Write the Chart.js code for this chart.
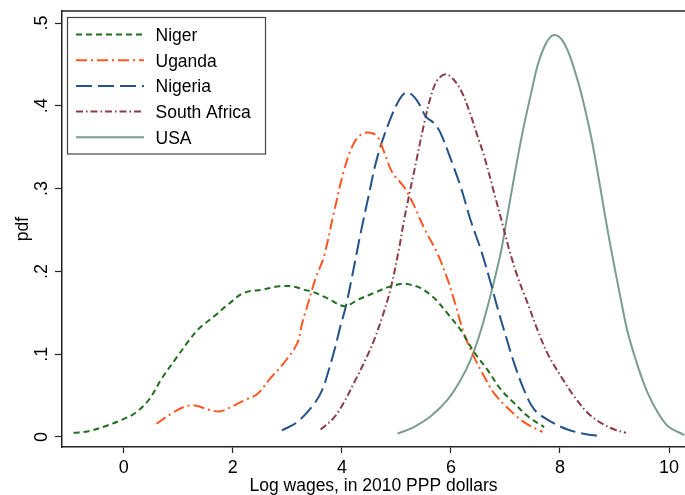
<!DOCTYPE html>
<html lang="en">
<head>
<meta charset="UTF-8">
<title>Log wage densities</title>
<style>
  html, body { margin: 0; padding: 0; background: #fff; overflow: hidden; }
  #chart { display: block; }
</style>
</head>
<body>
<canvas id="chart" width="685" height="495"></canvas>
<script src="https://cdn.jsdelivr.net/npm/chart.js"></script>
<script>
  const countries = ['Niger', 'Uganda', 'Nigeria', 'South Africa', 'USA'];

  // kernel density curves
  const nigerX = [-0.92, -0.65, -0.34, -0.03, 0.21, 0.46, 0.70, 0.98, 1.19, 1.38, 1.68, 1.93, 2.20, 2.54, 2.85, 3.09, 3.30, 3.48, 3.75, 4.05, 4.30, 4.59, 4.85, 5.10, 5.25, 5.44, 5.69, 5.94, 6.18, 6.42, 6.67, 6.92, 7.16, 7.41, 7.71];
  const nigerY = [0.005, 0.007, 0.013, 0.021, 0.029, 0.045, 0.071, 0.097, 0.116, 0.131, 0.147, 0.161, 0.174, 0.178, 0.182, 0.182, 0.178, 0.175, 0.167, 0.158, 0.166, 0.174, 0.181, 0.185, 0.184, 0.180, 0.168, 0.149, 0.129, 0.103, 0.081, 0.057, 0.041, 0.025, 0.012];

  const ugandaX = [0.60, 0.89, 1.13, 1.31, 1.56, 1.77, 1.99, 2.23, 2.45, 2.69, 2.93, 3.18, 3.27, 3.36, 3.51, 3.67, 3.85, 4.05, 4.22, 4.37, 4.52, 4.65, 4.77, 4.92, 5.14, 5.32, 5.51, 5.75, 5.94, 6.06, 6.24, 6.42, 6.61, 6.79, 7.04, 7.34, 7.68];
  const ugandaY = [0.016, 0.029, 0.037, 0.038, 0.033, 0.031, 0.037, 0.045, 0.052, 0.071, 0.089, 0.113, 0.137, 0.157, 0.190, 0.218, 0.270, 0.325, 0.355, 0.366, 0.3675, 0.363, 0.345, 0.320, 0.302, 0.280, 0.252, 0.222, 0.190, 0.165, 0.125, 0.097, 0.073, 0.053, 0.035, 0.018, 0.006];

  const nigeriaX = [2.90, 3.18, 3.48, 3.64, 3.76, 3.88, 3.97, 4.07, 4.16, 4.28, 4.34, 4.47, 4.65, 4.87, 5.05, 5.17, 5.29, 5.41, 5.54, 5.69, 5.81, 6.00, 6.18, 6.36, 6.55, 6.73, 6.85, 7.01, 7.16, 7.34, 7.53, 7.77, 8.14, 8.51, 8.69];
  const nigeriaY = [0.008, 0.018, 0.039, 0.057, 0.081, 0.109, 0.133, 0.157, 0.185, 0.225, 0.245, 0.285, 0.338, 0.381, 0.407, 0.416, 0.413, 0.403, 0.387, 0.379, 0.367, 0.335, 0.302, 0.262, 0.226, 0.186, 0.157, 0.121, 0.089, 0.057, 0.033, 0.021, 0.009, 0.003, 0.0016];

  const southAfricaX = [3.61, 3.85, 4.03, 4.25, 4.43, 4.59, 4.74, 4.89, 5.05, 5.14, 5.37, 5.51, 5.63, 5.75, 5.90, 6.03, 6.18, 6.33, 6.49, 6.61, 6.80, 6.95, 7.07, 7.22, 7.41, 7.59, 7.77, 8.02, 8.26, 8.51, 8.75, 9.00, 9.21];
  const southAfricaY = [0.009, 0.023, 0.041, 0.069, 0.093, 0.117, 0.145, 0.178, 0.228, 0.262, 0.335, 0.379, 0.411, 0.431, 0.438, 0.433, 0.419, 0.395, 0.363, 0.339, 0.293, 0.256, 0.226, 0.194, 0.161, 0.129, 0.101, 0.073, 0.049, 0.029, 0.017, 0.009, 0.005];

  const usaX = [5.02, 5.32, 5.63, 5.94, 6.18, 6.36, 6.55, 6.73, 6.85, 6.93, 7.01, 7.16, 7.31, 7.47, 7.59, 7.71, 7.82, 7.91, 8.02, 8.14, 8.23, 8.39, 8.57, 8.69, 8.83, 8.94, 9.12, 9.24, 9.43, 9.61, 9.80, 9.98, 10.28];
  const usaY = [0.004, 0.012, 0.025, 0.045, 0.069, 0.093, 0.129, 0.172, 0.204, 0.228, 0.258, 0.314, 0.367, 0.415, 0.449, 0.471, 0.483, 0.4855, 0.481, 0.467, 0.451, 0.415, 0.363, 0.320, 0.266, 0.226, 0.165, 0.127, 0.085, 0.053, 0.029, 0.013, 0.0024];

  const xTicks = [0, 2, 4, 6, 8, 10];
  const yTicks = [0, 0.1, 0.2, 0.3, 0.4, 0.5];
  const yTickLabels = ['0', '.1', '.2', '.3', '.4', '.5'];

  const FONT = '"Liberation Sans", Arial, Helvetica, sans-serif';

  const seriesX = [nigerX, ugandaX, nigeriaX, southAfricaX, usaX];
  const seriesY = [nigerY, ugandaY, nigeriaY, southAfricaY, usaY];
  const lineStyles = [
    { color: '#1f6e1f', dash: [6, 4] },
    { color: '#ff5722', dash: [11, 4, 2, 4] },
    { color: '#23538a', dash: [16, 6] },
    { color: '#8c3b47', dash: [7, 3, 1.5, 3] },
    { color: '#7b9d8e', dash: [] }
  ];

  const datasets = countries.map((name, i) => ({
    label: name,
    data: seriesX[i].map((x, j) => ({ x: x, y: seriesY[i][j] })),
    borderColor: lineStyles[i].color,
    borderDash: lineStyles[i].dash,
    borderWidth: 2,
    pointRadius: 0,
    fill: false,
    tension: 0.35
  }));

  // top frame line, rotated y labels (Stata style) and the boxed legend
  const stataBits = {
    id: 'stataBits',
    afterDraw(chart) {
      const ctx = chart.ctx;
      const area = chart.chartArea;
      const ys = chart.scales.y;
      ctx.save();

      ctx.strokeStyle = '#222';
      ctx.lineWidth = 1.5;
      ctx.beginPath();
      ctx.moveTo(area.left - 0.75, area.top);
      ctx.lineTo(area.right, area.top);
      ctx.stroke();

      ctx.fillStyle = '#000';
      ctx.font = '18px ' + FONT;
      ctx.textAlign = 'center';
      ctx.textBaseline = 'middle';
      yTicks.forEach((v, i) => {
        ctx.save();
        ctx.translate(41, ys.getPixelForValue(v));
        ctx.rotate(-Math.PI / 2);
        ctx.fillText(yTickLabels[i], 0, 1);
        ctx.restore();
      });

      // legend box
      ctx.fillStyle = '#fff';
      ctx.fillRect(67.5, 17.5, 198, 136.5);
      ctx.strokeStyle = '#444';
      ctx.lineWidth = 1.2;
      ctx.strokeRect(67.5, 17.5, 198, 136.5);

      ctx.font = '17.5px ' + FONT;
      ctx.textAlign = 'left';
      chart.data.datasets.forEach((ds, i) => {
        const y = 34.5 + i * 25.7;
        ctx.strokeStyle = ds.borderColor;
        ctx.lineWidth = ds.borderWidth;
        ctx.setLineDash(ds.borderDash);
        ctx.beginPath();
        ctx.moveTo(76, y);
        ctx.lineTo(144, y);
        ctx.stroke();
        ctx.setLineDash([]);
        ctx.fillStyle = '#000';
        ctx.fillText(ds.label, 155.5, y + 1.5);
      });
      ctx.restore();
    }
  };

  new Chart(document.getElementById('chart'), {
    type: 'line',
    data: { datasets: datasets },
    options: {
      responsive: false,
      animation: false,
      devicePixelRatio: 1,
      layout: { padding: { top: 11, right: 0, left: 0, bottom: 0 } },
      plugins: { legend: { display: false }, tooltip: { enabled: false } },
      scales: {
        x: {
          type: 'linear',
          min: -1.1335,
          max: 10.293,
          afterBuildTicks: (scale) => { scale.ticks = xTicks.map(v => ({ value: v })); },
          afterFit: (scale) => { scale.height = 48; },
          border: { color: '#222', width: 1.5 },
          grid: { drawOnChartArea: false, tickLength: 6, color: '#222', tickWidth: 1.2 },
          ticks: { color: '#000', font: { family: FONT, size: 18 }, padding: 4, maxRotation: 0 },
          title: {
            display: true,
            text: 'Log wages, in 2010 PPP dollars',
            color: '#000',
            font: { family: FONT, size: 17.5, lineHeight: 1 },
            padding: { top: 0, bottom: 0 }
          }
        },
        y: {
          min: -0.01208,
          max: 0.5145,
          afterBuildTicks: (scale) => { scale.ticks = yTicks.map(v => ({ value: v })); },
          afterFit: (scale) => { scale.width = 62; },
          border: { color: '#222', width: 1.5 },
          grid: { drawOnChartArea: false, tickLength: 7, color: '#222', tickWidth: 1.2 },
          ticks: { display: false },
          title: {
            display: true,
            text: 'pdf',
            color: '#000',
            font: { family: FONT, size: 17.5, lineHeight: 1 },
            padding: { top: 14, bottom: 0 }
          }
        }
      }
    },
    plugins: [stataBits]
  });
</script>
</body>
</html>
